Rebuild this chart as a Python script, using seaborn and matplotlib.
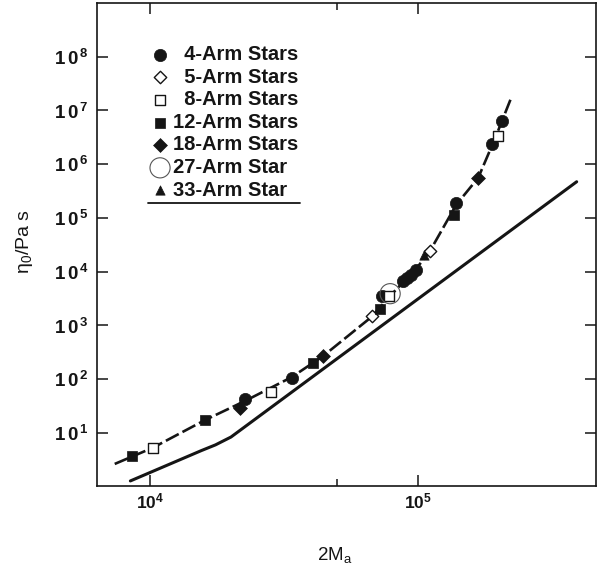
import matplotlib
matplotlib.use("Agg")
import matplotlib.pyplot as plt
import seaborn as sns
from matplotlib.lines import Line2D
from matplotlib.ticker import FixedLocator, FuncFormatter, NullFormatter, NullLocator
import numpy as np

# ---------------- data ----------------
arm4_M = [2.26e4, 3.38e4, 7.33e4, 8.8e4, 9.1e4, 9.4e4, 9.8e4, 1.39e5, 1.89e5, 2.07e5]
arm4_eta = [43, 105, 3.5e3, 6.8e3, 7.7e3, 8.7e3, 1.08e4, 1.92e5, 2.41e6, 6.27e6]

arm5_M = [6.71e4, 1.11e5]
arm5_eta = [1.47e3, 2.48e4]

arm8_M = [1.02e4, 2.81e4, 7.82e4, 2.0e5]
arm8_eta = [5.26, 58.8, 3.5e3, 3.35e6]

arm12_M = [8.55e3, 1.60e4, 4.04e4, 7.21e4, 1.36e5]
arm12_eta = [3.68, 17.7, 201, 2.04e3, 1.15e5]

arm18_M = [2.17e4, 4.43e4, 1.68e5]
arm18_eta = [29.2, 276, 5.53e5]

arm27_M = [7.87e4]
arm27_eta = [3.9e3]

arm33_M = [1.05e5]
arm33_eta = [2.07e4]

# dashed guide curve through the star data
curve_M = [7.35e3, 1.02e4, 1.60e4, 2.26e4, 3.38e4, 4.43e4, 6.71e4, 7.87e4,
           9.84e4, 1.11e5, 1.39e5, 1.68e5, 1.94e5, 2.24e5]
curve_eta = [2.65, 5.3, 17.4, 39.5, 110, 272, 1.446e3, 3.557e3,
             1.13e4, 2.45e4, 1.76e5, 5.6e5, 2.99e6, 1.81e7]

# solid line (linear polymers)
linear_M = [8.41e3, 1.55e4, 1.75e4, 2.0e4, 3.92e5]
linear_eta = [1.28, 4.7, 6.0, 8.4, 4.72e5]

legend_labels = ["  4-Arm Stars", "  5-Arm Stars", "  8-Arm Stars", "12-Arm Stars",
                 "18-Arm Stars", "27-Arm Star", "33-Arm Star"]

x_major = [1e4, 1e5]
x_minor = [5e4]
y_major = [1e1, 1e2, 1e3, 1e4, 1e5, 1e6, 1e7, 1e8]

# ---------------- style ----------------
sns.set_style("ticks")
plt.rcParams['font.family'] = ['Liberation Sans', 'DejaVu Sans']
plt.rcParams['mathtext.fontset'] = 'custom'
plt.rcParams['mathtext.rm'] = 'Liberation Sans'
plt.rcParams['mathtext.bf'] = 'Liberation Sans:bold'
plt.rcParams['mathtext.it'] = 'Liberation Sans:italic'

INK = '#151515'

fig = plt.figure(figsize=(5.98, 5.66), dpi=100)
ax = fig.add_axes([97 / 598, 80 / 566, 499 / 598, 483 / 566])
ax.set_xscale('log')
ax.set_yscale('log')

# lines
sns.lineplot(x=linear_M, y=linear_eta, ax=ax, color=INK, lw=2.2,
             estimator=None, sort=False, zorder=2)
sns.lineplot(x=curve_M, y=curve_eta, ax=ax, color=INK, lw=1.9,
             estimator=None, sort=False, linestyle=(0, (5.5, 1.6)), zorder=2)

# markers
sns.scatterplot(x=arm4_M, y=arm4_eta, ax=ax, marker='o', s=78, color=INK,
                edgecolor=INK, linewidth=0.5, label=legend_labels[0], zorder=4)
sns.scatterplot(x=arm5_M, y=arm5_eta, ax=ax, marker='D', s=40, color='white',
                edgecolor=INK, linewidth=1.0, label=legend_labels[1], zorder=4)
sns.scatterplot(x=arm8_M, y=arm8_eta, ax=ax, marker='s', s=48, color='white',
                edgecolor=INK, linewidth=1.0, label=legend_labels[2], zorder=4)
sns.scatterplot(x=arm12_M, y=arm12_eta, ax=ax, marker='s', s=55, color=INK,
                edgecolor=INK, linewidth=0.5, label=legend_labels[3], zorder=4)
sns.scatterplot(x=arm18_M, y=arm18_eta, ax=ax, marker='D', s=50, color=INK,
                edgecolor=INK, linewidth=0.5, label=legend_labels[4], zorder=4)
sns.scatterplot(x=arm27_M, y=arm27_eta, ax=ax, marker='o', s=210, facecolor='none',
                edgecolor='#555555', linewidth=0.8, label=legend_labels[5], zorder=5)
sns.scatterplot(x=arm33_M, y=arm33_eta, ax=ax, marker='^', s=45, color=INK,
                edgecolor=INK, linewidth=0.5, label=legend_labels[6], zorder=4)

# limits
ax.set_xlim(6310, 4.63e5)
ax.set_ylim(1.03, 1.0e9)

# ticks
ax.xaxis.set_major_locator(FixedLocator(x_major))
ax.xaxis.set_minor_locator(FixedLocator(x_minor))
ax.xaxis.set_minor_formatter(NullFormatter())
ax.yaxis.set_major_locator(FixedLocator(y_major))
ax.yaxis.set_minor_locator(NullLocator())


def xfmt(v, pos):
    e = int(round(np.log10(v)))
    return r"$\mathbf{10^{%d}}$" % e


def yfmt(v, pos):
    e = int(round(np.log10(v)))
    return r"$\mathbf{1\,0^{\,%d}}$" % e


ax.xaxis.set_major_formatter(FuncFormatter(xfmt))
ax.yaxis.set_major_formatter(FuncFormatter(yfmt))

ax.tick_params(axis='both', which='major', direction='in', length=8, width=1.1,
               color=INK, top=True, right=True)
ax.tick_params(axis='both', which='minor', direction='in', length=5, width=1.1,
               color=INK, top=True, right=True)
ax.tick_params(axis='x', which='major', labelsize=12.5, pad=4, labelcolor=INK)
ax.tick_params(axis='y', which='major', labelsize=13.5, pad=6, labelcolor=INK)

for sp in ax.spines.values():
    sp.set_visible(True)
    sp.set_linewidth(1.2)
    sp.set_color(INK)

# axis labels
ax.set_xlabel(r"2M$_\mathregular{a}$", fontsize=13.5, color=INK)
ax.xaxis.set_label_coords((335 - 97) / 499, (486 - 560) / 483)
ax.xaxis.label.set_va('baseline')
ax.set_ylabel(r"$\mathregular{\eta_0}$/Pa s", fontsize=14, color=INK)
ax.yaxis.set_label_coords((35 - 97) / 499, (486 - 242) / 483)

# legend
leg = ax.legend(loc='upper left', bbox_to_anchor=((153 - 97) / 499, (486 - 45) / 483),
                frameon=False, borderpad=0, borderaxespad=0, handlelength=0.7,
                handletextpad=0.3, labelspacing=0.18,
                prop={'family': ['Liberation Sans', 'DejaVu Sans'], 'weight': 'bold', 'size': 14.5})
for t in leg.get_texts():
    t.set_color(INK)

# underline below the legend
ax.add_line(Line2D([(148 - 97) / 499, (300 - 97) / 499],
                   [(486 - 203) / 483, (486 - 203) / 483],
                   transform=ax.transAxes, color=INK, lw=1.3))

fig.savefig("out.png", dpi=100)
